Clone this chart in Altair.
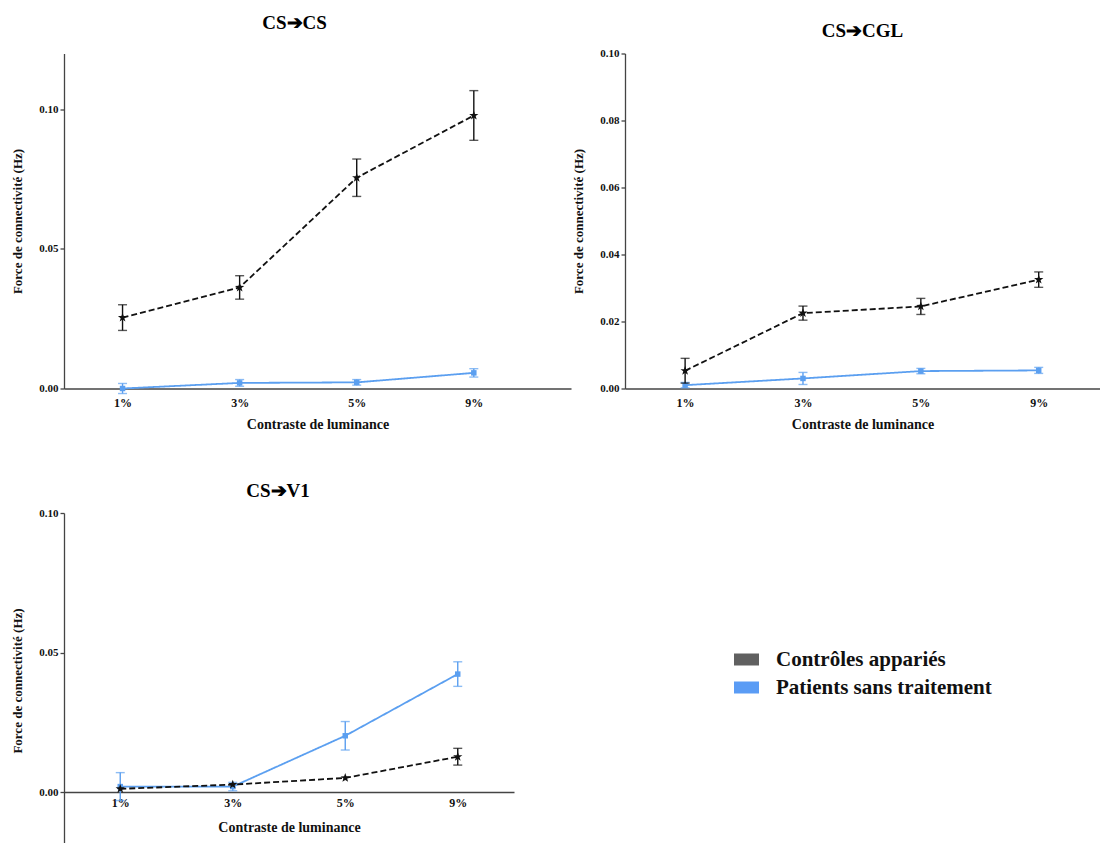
import json
import altair as alt
import pandas as pd

contrasts = ["1%", "3%", "5%", "9%"]
series_names = ["Contrôles appariés", "Patients sans traitement"]

# CS -> CS
cs_cs_ctrl = [0.0254, 0.0362, 0.0755, 0.0978]
cs_cs_ctrl_err = [0.0046, 0.0042, 0.0067, 0.0089]
cs_cs_pat = [0.0000, 0.0020, 0.0022, 0.0056]
cs_cs_pat_err = [0.0018, 0.0012, 0.0010, 0.0015]

# CS -> CGL
cs_cgl_ctrl = [0.0053, 0.0225, 0.0245, 0.0325]
cs_cgl_ctrl_err = [0.0037, 0.0021, 0.0024, 0.0023]
cs_cgl_pat = [0.0010, 0.0030, 0.0052, 0.0054]
cs_cgl_pat_err = [0.0008, 0.0018, 0.0008, 0.0009]

# CS -> V1
cs_v1_ctrl = [0.0012, 0.0027, 0.0051, 0.0127]
cs_v1_ctrl_err = [0.0, 0.0, 0.0, 0.0030]
cs_v1_pat = [0.0020, 0.0020, 0.0202, 0.0423]
cs_v1_pat_err = [0.0050, 0.0015, 0.0051, 0.0044]

BLACK = "#111111"
BLUE = "#5b9ff0"
AXIS = "#444444"
FONT = "Liberation Serif"
STAR = ("M0,-1L0.235,-0.324L0.951,-0.309L0.38,0.124L0.588,0.809L0,0.4"
        "L-0.588,0.809L-0.38,0.124L-0.951,-0.309L-0.235,-0.324Z")
SWATCH = "M-1,-0.48L1,-0.48L1,0.48L-1,0.48Z"

label_expr = json.dumps(contrasts) + "[datum.value - 1]"


def frame(vals, errs, name):
    return pd.DataFrame({
        "idx": list(range(1, len(contrasts) + 1)),
        "contraste": contrasts,
        "value": vals,
        "lo": [v - e for v, e in zip(vals, errs)],
        "hi": [v + e for v, e in zip(vals, errs)],
        "series": name,
    })


def panel(title, ctrl, ctrl_err, pat, pat_err, ydomain, yticks, width, xdomain,
          title_offset, title_dx=0, x_offset=0, label_pad=9, title_pad=9,
          legend=False):
    xaxis = alt.Axis(values=[1, 2, 3, 4], labelExpr=label_expr, ticks=False,
                     tickSize=0, grid=False, title="Contraste de luminance",
                     labelFontSize=12, titleFontSize=14, labelPadding=label_pad,
                     titlePadding=title_pad, offset=x_offset, labelAngle=0)
    yaxis = alt.Axis(values=yticks, format=".2f", grid=False, tickSize=4,
                     title="Force de connectivité (Hz)", labelFontSize=11,
                     titleFontSize=13, labelPadding=2, titlePadding=14)
    xs = alt.Scale(domain=xdomain, nice=False, zero=False)
    ys = alt.Scale(domain=ydomain, nice=False, zero=False)

    def X():
        return alt.X("idx:Q", scale=xs, axis=xaxis)

    def Y(field):
        return alt.Y(f"{field}:Q", scale=ys, axis=yaxis)

    layers = []
    for vals, errs, name, color, dash, shape, size in [
        (pat, pat_err, series_names[1], BLUE, [1, 0], "square", 30),
        (ctrl, ctrl_err, series_names[0], BLACK, [6, 3], STAR, 95),
    ]:
        df = frame(vals, errs, name)
        base = alt.Chart(df)
        layers.append(base.mark_line(color=color, strokeWidth=1.8, strokeDash=dash)
                      .encode(x=X(), y=Y("value")))
        edf = df[[e > 0 for e in errs]]
        if len(edf):
            eb = alt.Chart(edf)
            layers.append(eb.mark_rule(color=color, strokeWidth=1.4)
                          .encode(x=X(), y=Y("lo"), y2="hi:Q"))
            layers.append(eb.mark_tick(color=color, orient="horizontal", size=9,
                                       thickness=1.4)
                          .encode(x=X(), y=Y("lo")))
            layers.append(eb.mark_tick(color=color, orient="horizontal", size=9,
                                       thickness=1.4)
                          .encode(x=X(), y=Y("hi")))
        layers.append(base.mark_point(shape=shape, filled=True, color=color,
                                      size=size, opacity=1)
                      .encode(x=X(), y=Y("value")))
    if legend:
        ldf = pd.DataFrame({"series": series_names, "idx": [1, 1], "value": [0, 0]})
        layers.append(
            alt.Chart(ldf).mark_point(filled=True, opacity=0).encode(
                x=X(), y=Y("value"),
                fill=alt.Fill("series:N",
                              scale=alt.Scale(domain=series_names,
                                              range=["#606060", "#5a9cf5"]),
                              legend=alt.Legend(
                                  orient="none", legendX=670, legendY=593.5,
                                  title=None, symbolType=SWATCH, symbolSize=625,
                                  symbolOpacity=1, symbolStrokeWidth=0,
                                  labelFont=FONT, labelFontSize=21,
                                  labelFontWeight="bold", labelColor="#111",
                                  labelOffset=17, rowPadding=5, padding=0,
                                  labelLimit=400)),
            )
        )
    return alt.layer(*layers).properties(
        width=width, height=335,
        title=alt.TitleParams(title, fontSize=19, font=FONT, fontWeight="bold",
                              color="#000", offset=title_offset, anchor="middle",
                              dx=title_dx),
    )


p1 = panel("CS➔CS", cs_cs_ctrl, cs_cs_ctrl_err, cs_cs_pat, cs_cs_pat_err,
           [0, 0.12], [0, 0.05, 0.10], 507, [0.5, 4.83], 21, title_dx=-23)
p2 = panel("CS➔CGL", cs_cgl_ctrl, cs_cgl_ctrl_err, cs_cgl_pat, cs_cgl_pat_err,
           [0, 0.10], [0, 0.02, 0.04, 0.06, 0.08, 0.10], 475, [0.49, 4.52], 7)
p3 = panel("CS➔V1", cs_v1_ctrl, cs_v1_ctrl_err, cs_v1_pat, cs_v1_pat_err,
           [-0.02, 0.10], [0, 0.05, 0.10], 450, [0.5, 4.5], 6, title_dx=-11,
           x_offset=-56, label_pad=5, title_pad=12, legend=True)

chart = alt.vconcat(
    alt.hconcat(p1, p2, spacing=1),
    p3,
    spacing=50.5,
).properties(
    padding={"left": 3, "top": 5.5, "right": 0, "bottom": 0},
).configure_view(
    stroke=None,
).configure_axis(
    labelFont=FONT, titleFont=FONT, labelFontWeight="bold", titleFontWeight="bold",
    labelColor="#111", titleColor="#111", domainColor=AXIS, tickColor=AXIS,
    domainWidth=1.3, tickWidth=1.3,
)

chart.save("out.html", embed_options={"renderer": "svg", "actions": False})
